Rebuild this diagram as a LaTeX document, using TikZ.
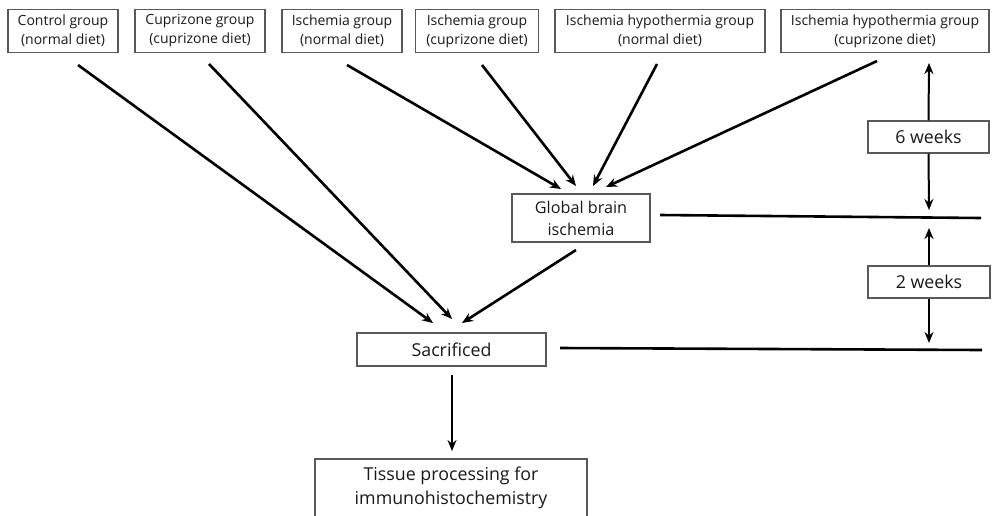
\documentclass[tikz,border=0pt]{standalone}
\usepackage{fontspec}
\setmainfont{Open Sans}
\usetikzlibrary{arrows.meta}
\begin{document}
\begin{tikzpicture}[x=1pt,y=-1pt,
  box/.style={draw=black!65,line width=1.1pt,inner sep=0pt,align=center,text=black!90},
  small/.style={font=\fontsize{14}{19}\selectfont},
  mid/.style={font=\fontsize{16.2}{22}\selectfont},
  big/.style={font=\fontsize{17.8}{24}\selectfont},
  arr/.style={line width=2.6pt,-{Stealth[length=11pt,width=9pt]}},
  ln/.style={line width=2.6pt}]
\useasboundingbox (0,0) rectangle (992,515);
\node[box,small,minimum width=110pt,minimum height=43pt] (g1) at (63,31) {Control group\\(normal diet)};
\node[box,small,minimum width=130pt,minimum height=43pt] (g2) at (200,31) {Cuprizone group\\(cuprizone diet)};
\node[box,small,minimum width=120pt,minimum height=43pt] (g3) at (342,31) {Ischemia group\\(normal diet)};
\node[box,small,minimum width=123pt,minimum height=43pt] (g4) at (477,31) {Ischemia group\\(cuprizone diet)};
\node[box,small,minimum width=210pt,minimum height=43pt] (g5) at (660,31) {Ischemia hypothermia group\\(normal diet)};
\node[box,small,minimum width=208pt,minimum height=43pt] (g6) at (885,31) {Ischemia hypothermia group\\(cuprizone diet)};
\node[box,mid,minimum width=138pt,minimum height=48pt] (gbi) at (581,218) {Global brain\\ischemia};
\node[box,big,minimum width=189pt,minimum height=33pt] (sac) at (451.5,349.5) {Sacrificed};
\node[box,big,minimum width=272pt,minimum height=58pt] (tis) at (451,488) {Tissue processing for\\immunohistochemistry};
\node[box,big,minimum width=121pt,minimum height=32pt] (w6) at (928.5,137) {6 weeks};
\node[box,big,minimum width=122pt,minimum height=32pt] (w2) at (929,282) {2 weeks};
% connector end points
\coordinate (s1) at (78,65);  \coordinate (e1) at (433,323);
\coordinate (s2) at (209,64); \coordinate (e2) at (452,319);
\coordinate (s3) at (347,65); \coordinate (e3) at (561,189);
\coordinate (s4) at (482,65); \coordinate (e4) at (576,186);
\coordinate (s5) at (657,64); \coordinate (e5) at (593,186);
\coordinate (s6) at (877,61); \coordinate (e6) at (606,187);
\coordinate (sg) at (576,250); \coordinate (eg) at (462,323);
\coordinate (ss) at (452,375); \coordinate (es) at (452,451);
\coordinate (l1a) at (660,215); \coordinate (l1b) at (981,218);
\coordinate (l2a) at (560,348); \coordinate (l2b) at (982,350);
\coordinate (u6) at (929,63); \coordinate (d6) at (929,210);
\coordinate (u2) at (929,228); \coordinate (d2) at (929,343);
\draw[arr] (s1) -- (e1);
\draw[arr] (s2) -- (e2);
\draw[arr] (s3) -- (e3);
\draw[arr] (s4) -- (e4);
\draw[arr] (s5) -- (e5);
\draw[arr] (s6) -- (e6);
\draw[arr] (sg) -- (eg);
\draw[arr] (ss) -- (es);
\draw[ln] (l1a) -- (l1b);
\draw[ln] (l2a) -- (l2b);
\draw[arr,line width=2pt] (w6.north) -- (u6);
\draw[arr,line width=2pt] (w6.south) -- (d6);
\draw[arr,line width=2pt] (w2.north) -- (u2);
\draw[arr,line width=2pt] (w2.south) -- (d2);
\end{tikzpicture}
\end{document}
